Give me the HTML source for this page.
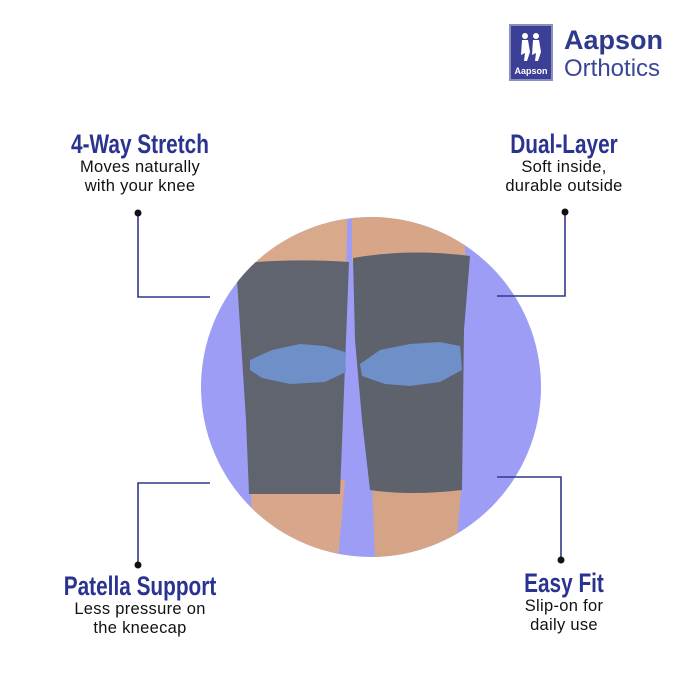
<!DOCTYPE html>
<html><head><style>
body{margin:0;width:700px;height:700px;background:#fff;overflow:hidden;position:relative;font-family:"Liberation Sans",sans-serif}
.t{position:absolute;text-align:center;width:240px}
.h{font-weight:bold;color:#2b3390;font-size:27px;line-height:28px;transform:scaleX(0.77);white-space:nowrap}
.s{color:#111;font-size:16.5px;line-height:19px;letter-spacing:0.3px}
</style></head><body>
<svg width="700" height="700" style="position:absolute;left:0;top:0">
<defs><clipPath id="c"><circle cx="371" cy="387" r="170"/></clipPath></defs>
<circle cx="371" cy="387" r="170" fill="#9d9df6"/>
<g clip-path="url(#c)">
<path d="M240 200 L348 200 L346 270 L240 270 Z" fill="#d9a98c"/>
<path d="M352 200 L462 200 L466 262 L352 262 Z" fill="#d7a588"/>
<path d="M250 480 L345 480 L338 560 L255 560 Z" fill="#d8a78b"/>
<path d="M372 480 L462 480 L455 560 L375 560 Z" fill="#d5a487"/>
<path d="M236 264 Q290 258 349 262 L346 340 L340 494 L249 494 L246 420 Z" fill="#5f646e"/>
<path d="M353 258 Q410 248 470 256 L464 330 L462 490 Q410 496 370 490 L362 420 L355 340 Z" fill="#5d626c"/>
<path d="M250 360 L272 350 L300 344 L325 346 L345 352 L346 372 L325 382 L290 384 L262 378 L250 370 Z" fill="#6f8fc8"/>
<path d="M360 364 L380 350 L410 344 L440 342 L460 346 L462 370 L440 382 L410 386 L385 384 L362 376 Z" fill="#6f8fc8"/>
</g>
<g stroke="#2e3a8c" stroke-width="1.6" fill="none">
<polyline points="138,213 138,297 210,297"/>
<polyline points="565,212 565,296 497,296"/>
<polyline points="138,565 138,483 210,483"/>
<polyline points="561,558 561,477 497,477"/>
</g>
<g fill="#111"><circle cx="138" cy="213" r="3.5"/><circle cx="565" cy="212" r="3.5"/><circle cx="138" cy="565" r="3.5"/><circle cx="561" cy="560" r="3.5"/></g>
<rect x="510" y="25" width="42" height="55" fill="#3b3f95" stroke="#8890c0" stroke-width="2"/>
<text x="531" y="74" font-size="9" font-weight="bold" fill="#fff" text-anchor="middle" font-family="Liberation Sans">Aapson</text>
<g fill="#fff"><circle cx="525" cy="36" r="3"/><circle cx="536" cy="36" r="3"/><path d="M522 40h6l2 12-3 9h-3l1-8-4 2zM533 40h6l2 12-3 9h-3l1-8-4 2z"/></g>
<text x="564" y="49" font-size="27" font-weight="bold" fill="#2e3a8c" font-family="Liberation Sans">Aapson</text>
<text x="564" y="76" font-size="24" fill="#3b4596" font-family="Liberation Sans">Orthotics</text>
</svg>
<div class="t" style="left:20px;top:130px"><div class="h">4-Way Stretch</div><div class="s">Moves naturally<br>with your knee</div></div>
<div class="t" style="left:444px;top:130px"><div class="h">Dual-Layer</div><div class="s">Soft inside,<br>durable outside</div></div>
<div class="t" style="left:20px;top:572px"><div class="h">Patella Support</div><div class="s">Less pressure on<br>the kneecap</div></div>
<div class="t" style="left:444px;top:569px"><div class="h">Easy Fit</div><div class="s">Slip-on for<br>daily use</div></div>
</body></html>
